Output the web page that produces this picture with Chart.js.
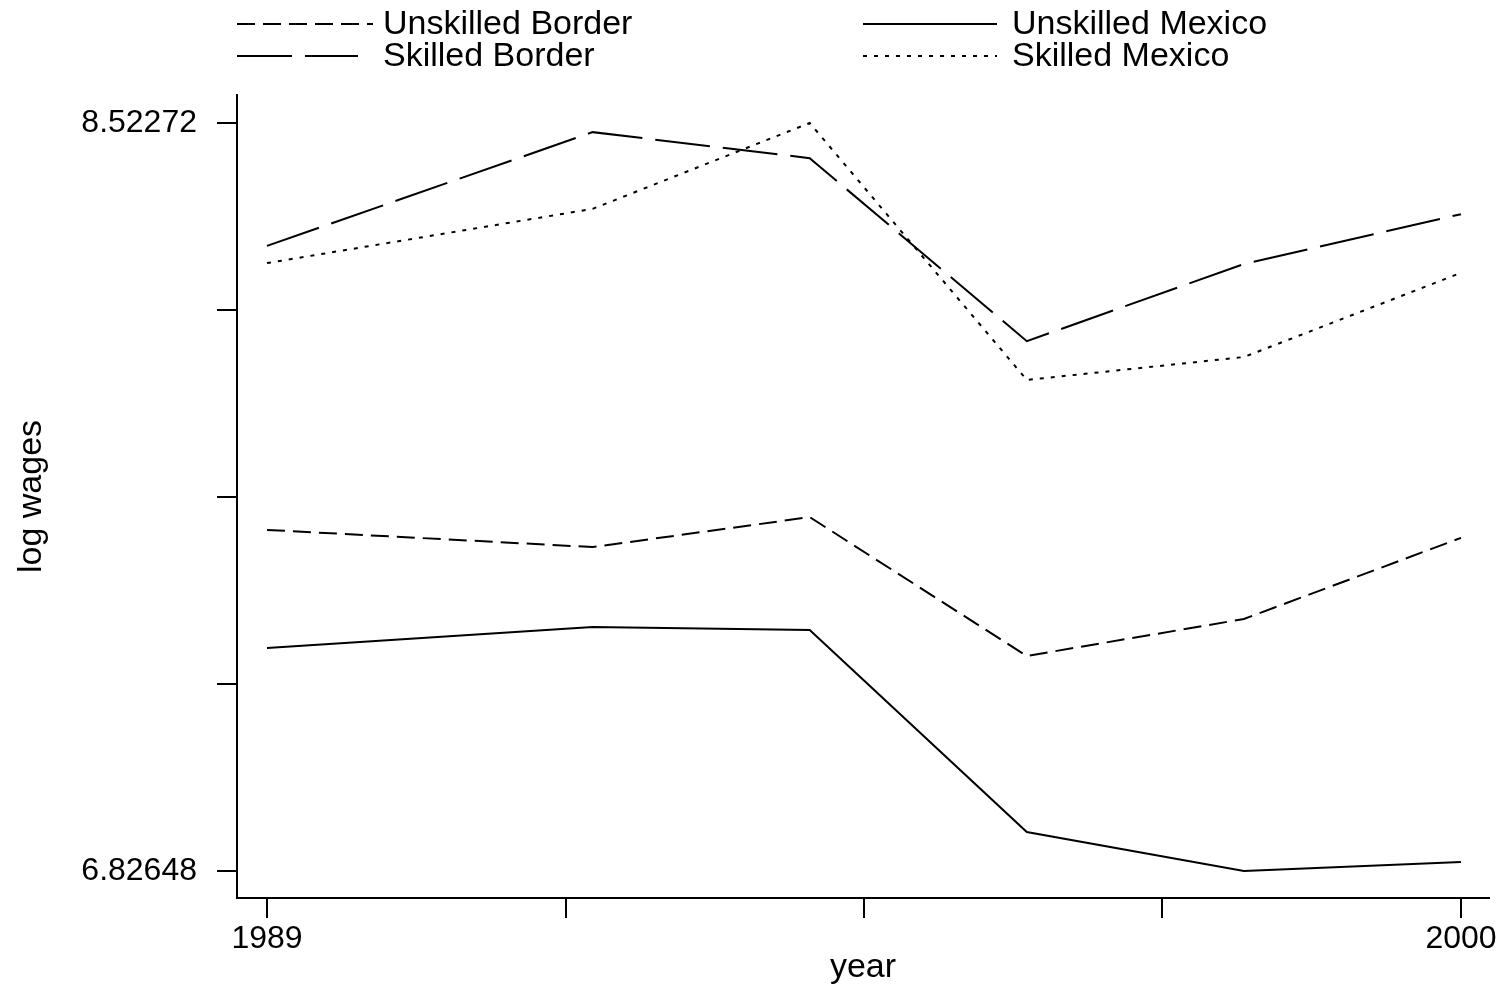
<!DOCTYPE html>
<html>
<head>
<meta charset="utf-8">
<script src="https://cdn.jsdelivr.net/npm/chart.js@4.4.1/dist/chart.umd.min.js"></script>
<style>
html,body{margin:0;padding:0;background:#fff;}
#wrap{width:1499px;height:990px;position:relative;}
</style>
</head>
<body>
<div id="wrap"><canvas id="c" width="1499" height="990"></canvas></div>
<script>
// ---- data ----
const years = [1989, 1992, 1994, 1996, 1998, 2000];
const unskilledBorder = [7.600, 7.561, 7.629, 7.314, 7.398, 7.582];
const unskilledMexico = [7.332, 7.380, 7.373, 6.915, 6.8265, 6.847];
const skilledBorder   = [8.244, 8.502, 8.443, 8.028, 8.203, 8.316];
const skilledMexico   = [8.205, 8.328, 8.5227, 7.940, 7.992, 8.183];
const seriesNames = ['Unskilled Border', 'Unskilled Mexico', 'Skilled Border', 'Skilled Mexico'];
const yTickValues = [6.82648, 7.25054, 7.67460, 8.09866, 8.52272];
const yTickLabels = ['6.82648', '', '', '', '8.52272'];
const xTickValues = [1989, 1991.75, 1994.5, 1997.25, 2000];
const xTickLabels = ['1989', '', '', '', '2000'];

const FONT = "'Liberation Sans', Arial, Helvetica, sans-serif";

function pts(vals){ return years.map((y,i)=>({x:y, y:vals[i]})); }

const styles = [
  {dash:[18,8]},
  {dash:[]},
  {dash:[55,13]},
  {dash:[4,7]}
];
const allSeries = [unskilledBorder, unskilledMexico, skilledBorder, skilledMexico];

const datasets = allSeries.map((s,i)=>({
  label: seriesNames[i],
  data: pts(s),
  borderColor: '#000',
  backgroundColor: '#000',
  borderWidth: 2,
  borderDash: styles[i].dash,
  pointRadius: 0,
  tension: 0,
  fill: false
}));

const legendPlugin = {
  id: 'customLegend',
  afterDraw(chart){
    const ctx = chart.ctx;
    const slots = [
      {x0:237, x1:373, tx:383, y:24},
      {x0:863, x1:997, tx:1012, y:24},
      {x0:237, x1:358, tx:383, y:56},
      {x0:863, x1:997, tx:1012, y:56}
    ];
    ctx.save();
    chart.data.datasets.forEach((ds,i)=>{
      const s = slots[i];
      ctx.strokeStyle = '#000';
      ctx.lineWidth = 2;
      ctx.setLineDash(ds.borderDash || []);
      ctx.beginPath();
      ctx.moveTo(s.x0, s.y);
      ctx.lineTo(s.x1, s.y);
      ctx.stroke();
      ctx.setLineDash([]);
      ctx.fillStyle = '#000';
      ctx.font = '34px ' + FONT;
      ctx.textBaseline = 'alphabetic';
      ctx.textAlign = 'left';
      ctx.fillText(ds.label, s.tx, s.y + 10);
    });
    ctx.restore();
  }
};

new Chart(document.getElementById('c'), {
  type: 'line',
  data: { datasets },
  plugins: [legendPlugin],
  options: {
    responsive: false,
    animation: false,
    devicePixelRatio: 1,
    layout: { padding: { top: 95, right: 10, left: 0, bottom: 0 } },
    plugins: { legend: { display: false }, tooltip: { enabled: false } },
    scales: {
      x: {
        type: 'linear',
        min: 1988.7236,
        max: 2000.258,
        afterBuildTicks(scale){ scale.ticks = xTickValues.map(v=>({value:v})); },
        afterFit(scale){ scale.height = 92; },
        ticks: {
          autoSkip: false,
          maxRotation: 0,
          padding: 2,
          color: '#000',
          font: { family: FONT, size: 32 },
          callback(v, i){ return xTickLabels[i]; }
        },
        grid: { drawOnChartArea: false, drawTicks: true, tickLength: 20, color: '#000', lineWidth: 2 },
        border: { display: true, color: '#000', width: 2 },
        title: { display: true, text: 'year', color: '#000', font: { family: FONT, size: 34 }, padding: { top: 0, bottom: 2 } }
      },
      y: {
        type: 'linear',
        min: 6.76525,
        max: 8.58622,
        afterBuildTicks(scale){ scale.ticks = yTickValues.map(v=>({value:v})); },
        afterFit(scale){ scale.width = 237; },
        ticks: {
          autoSkip: false,
          padding: 20,
          color: '#000',
          font: { family: FONT, size: 32 },
          callback(v, i){ return yTickLabels[i]; }
        },
        grid: { drawOnChartArea: false, drawTicks: true, tickLength: 20, color: '#000', lineWidth: 2 },
        border: { display: true, color: '#000', width: 2 },
        title: { display: true, text: 'log wages', color: '#000', font: { family: FONT, size: 34 }, padding: { top: 11, bottom: 0 } }
      }
    }
  }
});
</script>
</body>
</html>
